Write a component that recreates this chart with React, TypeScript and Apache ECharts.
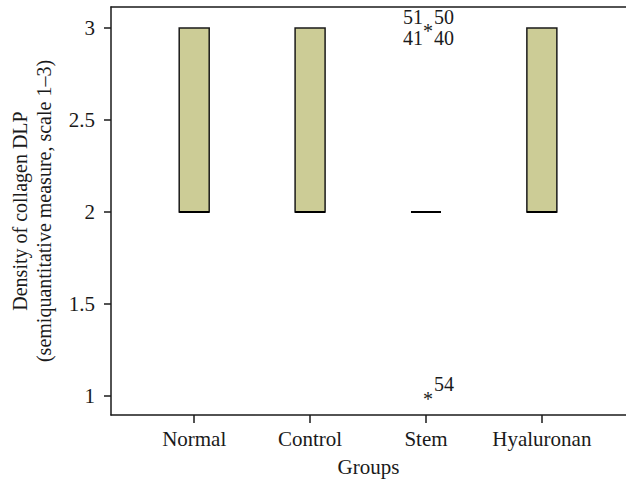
import React, { useEffect, useRef } from "react";
import * as echarts from "echarts";

const categories = ["Normal", "Control", "Stem", "Hyaluronan"];
const groupPositions = [1, 2, 3, 4];
const q1Values = [2, 2, 2, 2];
const medianValues = [2, 2, 2, 2];
const q3Values = [3, 3, 2, 3];
const yTicks = [1, 1.5, 2, 2.5, 3];
const outlierGroups = [3, 3];
const outlierValues = [3, 1];
const outlierIds = [["51", "50", "41", "40"], ["54"]];

const FONT = "Liberation Serif";

export default function App() {
  const ref = useRef<HTMLDivElement>(null);
  useEffect(() => {
    document.body.style.margin = "0";
    if (!ref.current) return;
    const chart = echarts.init(ref.current, null, { renderer: "svg" });
    const boxData = groupPositions.map((g, i) => [g, q1Values[i], medianValues[i], q3Values[i]]);
    const outData = outlierGroups.map((g, i) => [g, outlierValues[i]]);
    const labelOffsets4 = [[-13, -11], [18, -11], [-13, 10], [18, 10]];
    const labelOffsets1 = [[18, -12]];
    const xMin = 0.282;
    const xMax = 4.726;
    const axisLineStyle = { color: "#1a1a1a", width: 1.5 };
    chart.setOption({
      animation: false,
      grid: { left: 106, top: 7, right: 0, bottom: 68, containLabel: false },
      xAxis: [
        {
          type: "value",
          min: xMin,
          max: xMax,
          position: "bottom",
          axisLine: { show: true, lineStyle: axisLineStyle, onZero: false },
          axisTick: { show: true, length: 8, customValues: groupPositions, lineStyle: axisLineStyle },
          axisLabel: {
            customValues: groupPositions,
            formatter: (v: number) => categories[Math.round(v) - 1] ?? "",
            fontFamily: FONT,
            fontSize: 21,
            color: "#1a1a1a",
            margin: 13,
          },
          splitLine: { show: false },
          name: "Groups",
          nameLocation: "middle",
          nameGap: 41,
          nameTextStyle: { fontFamily: FONT, fontSize: 21, color: "#1a1a1a" },
        },
        {
          type: "value",
          min: xMin,
          max: xMax,
          position: "top",
          axisLine: { show: true, lineStyle: axisLineStyle, onZero: false },
          axisTick: { show: false },
          axisLabel: { show: false },
          splitLine: { show: false },
        },
      ],
      yAxis: {
        type: "value",
        min: 0.897,
        max: 3.114,
        axisLine: { show: true, lineStyle: axisLineStyle, onZero: false },
        axisTick: { show: true, length: 7, customValues: yTicks, lineStyle: axisLineStyle },
        axisLabel: {
          customValues: yTicks,
          fontFamily: FONT,
          fontSize: 21,
          color: "#1a1a1a",
          margin: 16,
        },
        splitLine: { show: false },
        name: "Density of collagen DLP\n(semiquantitative measure, scale 1–3)",
        nameLocation: "middle",
        nameRotate: 90,
        nameGap: 55,
        nameTextStyle: { fontFamily: FONT, fontSize: 20, color: "#1a1a1a", lineHeight: 24 },
      },
      series: [
        {
          type: "custom",
          data: boxData,
          encode: { x: 0, y: [1, 2, 3] },
          renderItem: (params: any, api: any) => {
            const x = api.value(0);
            const lo = api.coord([x, api.value(1)]);
            const md = api.coord([x, api.value(2)]);
            const hi = api.coord([x, api.value(3)]);
            const w = 30;
            return {
              type: "group",
              children: [
                {
                  type: "rect",
                  shape: { x: lo[0] - w / 2, y: hi[1], width: w, height: lo[1] - hi[1] },
                  style: { fill: "#cccc96", stroke: "#1a1a1a", lineWidth: 1.5 },
                },
                {
                  type: "line",
                  shape: { x1: md[0] - w / 2, y1: md[1], x2: md[0] + w / 2, y2: md[1] },
                  style: { stroke: "#000", lineWidth: 2 },
                },
              ],
            };
          },
        },
        {
          type: "custom",
          data: outData,
          encode: { x: 0, y: 1 },
          renderItem: (params: any, api: any) => {
            const p = api.coord([api.value(0), api.value(1)]);
            const ids = outlierIds[params.dataIndex] || [];
            const offs = ids.length > 1 ? labelOffsets4 : labelOffsets1;
            const children: any[] = [
              {
                type: "text",
                x: p[0] + 2,
                y: p[1] + 3,
                style: {
                  text: "*",
                  fontFamily: FONT,
                  fontSize: 20,
                  fill: "#1a1a1a",
                  align: "center",
                  verticalAlign: "middle",
                },
              },
            ];
            ids.forEach((t, k) => {
              children.push({
                type: "text",
                x: p[0] + offs[k][0],
                y: p[1] + offs[k][1],
                style: {
                  text: t,
                  fontFamily: FONT,
                  fontSize: 20,
                  fill: "#1a1a1a",
                  align: "center",
                  verticalAlign: "middle",
                },
              });
            });
            return { type: "group", children };
          },
        },
      ],
    });
    return () => chart.dispose();
  }, []);
  return <div ref={ref} style={{ width: 626, height: 483 }} />;
}
